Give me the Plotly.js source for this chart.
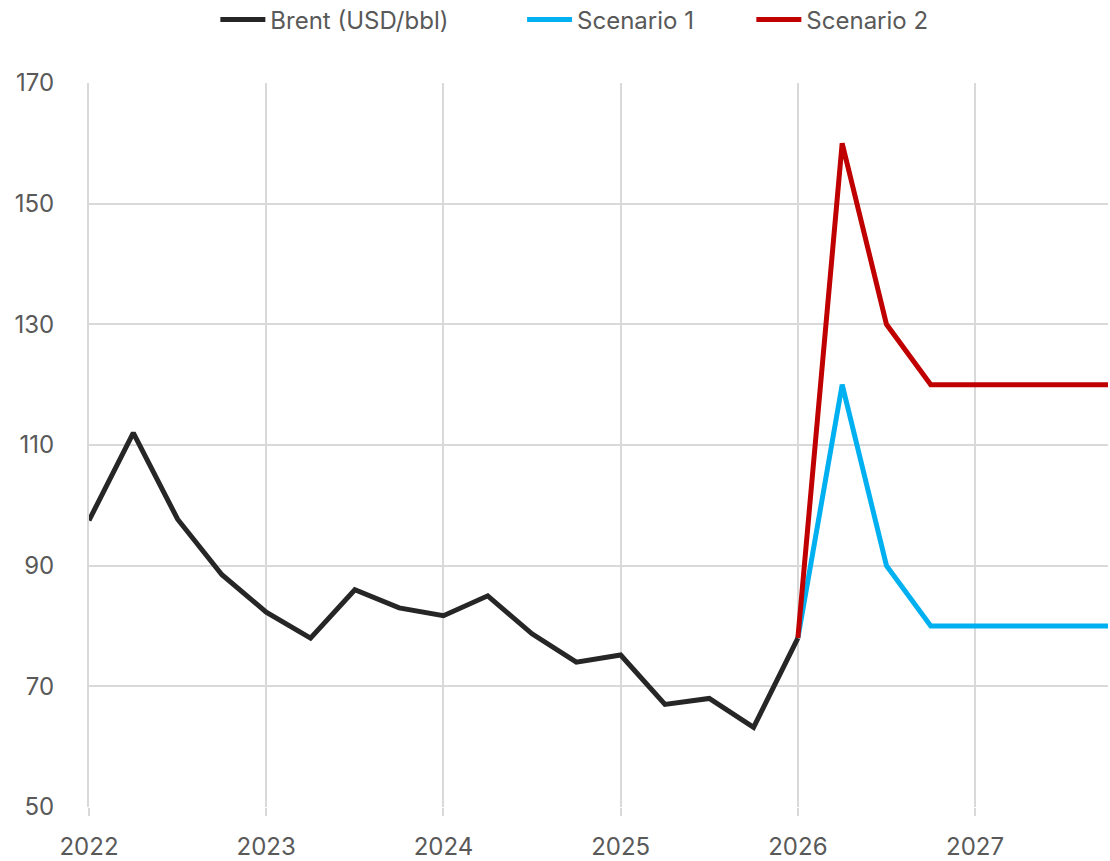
<!DOCTYPE html>
<html>
<head>
<meta charset="utf-8">
<script src="https://cdn.plot.ly/plotly-3.0.1.min.js"></script>
<style>html,body{margin:0;padding:0;background:#fff;}#chart{width:1110px;height:861px;}</style>
</head>
<body>
<div id="chart"></div>
<script>
const brentX = [2022, 2022.25, 2022.5, 2022.75, 2023, 2023.25, 2023.5, 2023.75, 2024, 2024.25, 2024.5, 2024.75, 2025, 2025.25, 2025.5, 2025.75, 2026];
const brentY = [97.5, 112, 97.7, 88.5, 82.3, 78, 86, 83, 81.7, 85, 78.7, 74, 75.2, 67, 68, 63.2, 78];
const scenX = [2026, 2026.25, 2026.5, 2026.75, 2027, 2027.25, 2027.5, 2027.75];
const scen1Y = [78, 120, 90, 80, 80, 80, 80, 80];
const scen2Y = [78, 160, 130, 120, 120, 120, 120, 120];
const yearTicks = [2022, 2023, 2024, 2025, 2026, 2027];
const yearLabels = ["2022", "2023", "2024", "2025", "2026", "2027"];
const yTicks = [50, 70, 90, 110, 130, 150, 170];

const font = {family: "Inter, 'Open Sans', sans-serif", size: 24, color: "#595959"};
const traces = [
  {x: brentX, y: brentY, name: "Brent (USD/bbl)", mode: "lines", line: {color: "#262626", width: 5}, legend: "legend"},
  {x: scenX, y: scen1Y, name: "Scenario 1", mode: "lines", line: {color: "#00b0f0", width: 5}, legend: "legend2"},
  {x: scenX, y: scen2Y, name: "Scenario 2", mode: "lines", line: {color: "#c00000", width: 5}, legend: "legend3"}
];
function leg(x) {
  return {orientation: "h", x: x, xanchor: "left", xref: "paper", yref: "container", y: 0.977, yanchor: "middle", font: font, itemwidth: 45, bgcolor: "rgba(0,0,0,0)"};
}
const layout = {
  width: 1110, height: 861,
  margin: {l: 89, r: 2, t: 83, b: 54},
  paper_bgcolor: "#fff", plot_bgcolor: "#fff",
  font: font,
  showlegend: true,
  legend: leg(0.124),
  legend2: leg(0.425),
  legend3: leg(0.65),
  xaxis: {
    range: [2022, 2027.75], tickvals: yearTicks, ticktext: yearLabels,
    showgrid: true, gridcolor: "#d9d9d9", gridwidth: 2,
    zeroline: false, showline: false, automargin: false,
    ticks: "outside", ticklen: 8, tickcolor: "#d9d9d9", tickwidth: 2,
    ticklabelstandoff: 10, tickfont: font
  },
  yaxis: {
    range: [50, 170], tickvals: yTicks,
    showgrid: true, gridcolor: "#d9d9d9", gridwidth: 2,
    zeroline: false, showline: true, linecolor: "#d9d9d9", linewidth: 2, automargin: false,
    ticks: "", ticklabelstandoff: 28, tickfont: font
  }
};
Plotly.newPlot("chart", traces, layout, {displayModeBar: false, staticPlot: true});
</script>
</body>
</html>
